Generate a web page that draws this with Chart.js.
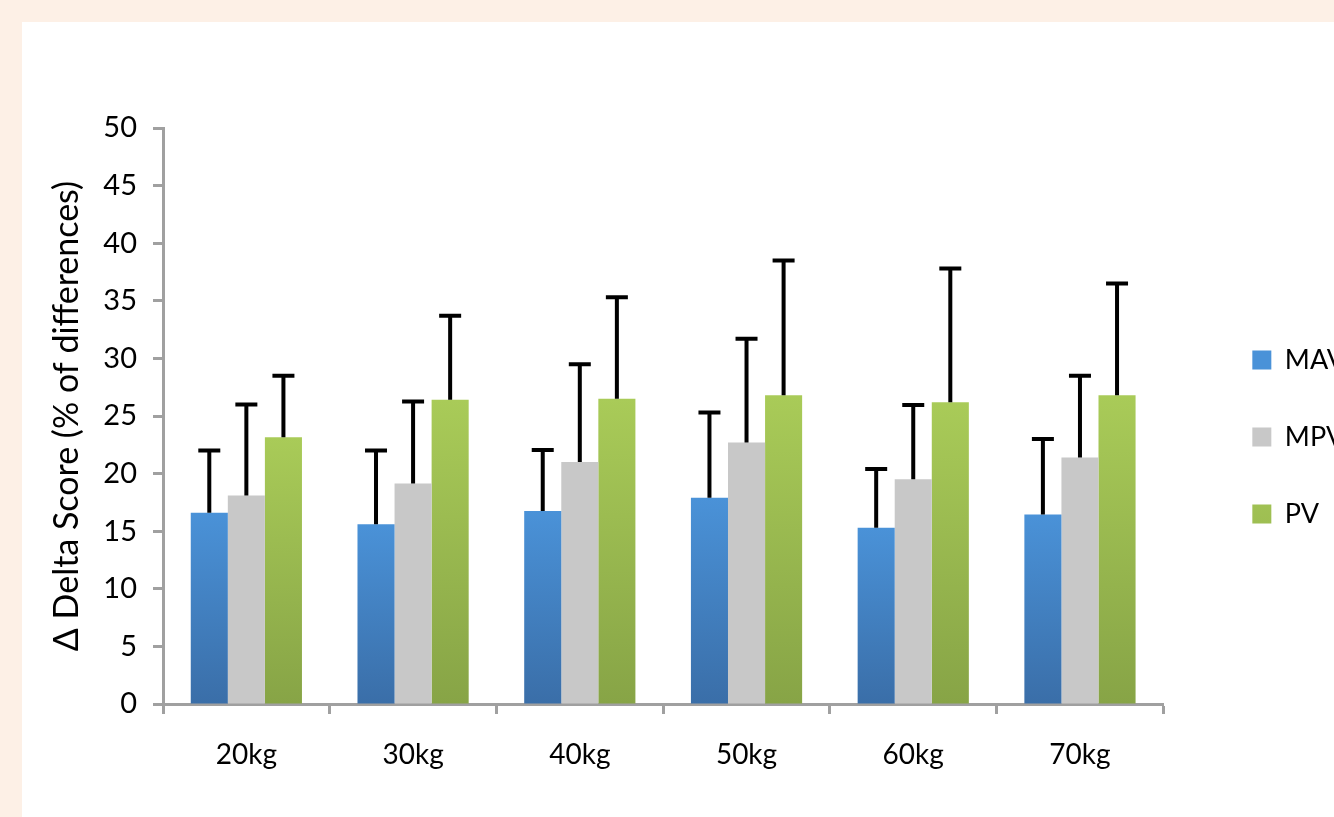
<!DOCTYPE html>
<html>
<head>
<meta charset="utf-8">
<script src="https://cdn.jsdelivr.net/npm/chart.js@4.4.0/dist/chart.umd.min.js"></script>
<style>
  html, body { margin: 0; padding: 0; background: #fdf0e6; overflow: hidden; width: 1334px; height: 817px; }
  #panel { position: absolute; left: 22px; top: 22px; width: 1333px; height: 795px; background: #fff; }
  #myChart { display: block; }
</style>
</head>
<body>
<div id="panel"><canvas id="myChart" width="1333" height="795"></canvas></div>
<script>
var categories = ["20kg", "30kg", "40kg", "50kg", "60kg", "70kg"];
var yTicks = [0, 5, 10, 15, 20, 25, 30, 35, 40, 45, 50];

// mean values
var mav = [16.6, 15.6, 16.75, 17.9, 15.3, 16.45];
var mpv = [18.1, 19.15, 21.0, 22.7, 19.5, 21.4];
var pv = [23.15, 26.4, 26.5, 26.8, 26.2, 26.8];

// + error (SD)
var mavErr = [5.4, 6.4, 5.3, 7.4, 5.1, 6.55];
var mpvErr = [7.9, 7.1, 8.5, 9.0, 6.45, 7.1];
var pvErr = [5.35, 7.3, 8.8, 11.7, 11.6, 9.7];

var fontFam = "Lato, 'Open Sans', sans-serif";

function barGradient(top, bottom) {
    return function (ctx) {
        var chart = ctx.chart;
        if (!chart.chartArea || ctx.type !== "data") return top;
        var y = chart.scales.y;
        var yTop = y.getPixelForValue(ctx.raw);
        var yBot = y.getPixelForValue(0);
        if (!isFinite(yTop) || !isFinite(yBot) || yTop === yBot) return top;
        var g = chart.ctx.createLinearGradient(0, yTop, 0, yBot);
        g.addColorStop(0, top);
        g.addColorStop(1, bottom);
        return g;
    };
}

var errorBars = {
    id: "errorBars",
    afterDatasetsDraw: function (chart) {
        var c = chart.ctx;
        var y = chart.scales.y;
        c.save();
        c.strokeStyle = "#000";
        c.lineWidth = 4;
        chart.data.datasets.forEach(function (ds, i) {
            var meta = chart.getDatasetMeta(i);
            meta.data.forEach(function (bar, j) {
                var x = bar.x;
                var top = y.getPixelForValue(ds.data[j] + ds.err[j]);
                var base = y.getPixelForValue(ds.data[j]);
                c.beginPath();
                c.moveTo(x, base);
                c.lineTo(x, top);
                c.moveTo(x - 11, top);
                c.lineTo(x + 11, top);
                c.stroke();
            });
        });
        c.restore();
    }
};

// x axis is kept short so the legend stays put; let its labels draw below it
var unclipX = {
    id: "unclipX",
    afterLayout: function (chart) {
        chart.scales.x.bottom = chart.height;
    }
};

new Chart("myChart", {
    type: "bar",
    data: {
        labels: categories,
        datasets: [
            { label: "MAV", data: mav, err: mavErr, backgroundColor: barGradient("#4a92d8", "#3a6ea8") },
            { label: "MPV", data: mpv, err: mpvErr, backgroundColor: "#c8c8c8" },
            { label: "PV", data: pv, err: pvErr, backgroundColor: barGradient("#a9cb58", "#87a446") }
        ]
    },
    options: {
        responsive: false,
        animation: false,
        layout: { padding: { left: 25, top: 106, bottom: 71, right: 0 } },
        datasets: { bar: { categoryPercentage: 0.667, barPercentage: 1.0, borderWidth: 0 } },
        scales: {
            x: {
                grid: { display: true, drawOnChartArea: false, drawTicks: true, tickLength: 10, tickWidth: 3, color: "#a0a0a0", offset: true },
                border: { display: true, width: 3, color: "#a0a0a0" },
                ticks: { color: "#000", padding: 24, font: { family: fontFam, size: 28 } },
                afterFit: function (s) { s.height = 42; }
            },
            y: {
                min: 0,
                max: 50,
                afterBuildTicks: function (s) { s.ticks = yTicks.map(function (v) { return { value: v }; }); },
                grid: { display: true, drawOnChartArea: false, drawTicks: true, tickLength: 10, tickWidth: 3, color: "#a0a0a0" },
                border: { display: true, width: 3, color: "#a0a0a0" },
                ticks: { color: "#000", padding: 16, font: { family: fontFam, size: 29 } },
                title: { display: true, text: "Δ Delta Score (% of differences)", color: "#000", padding: 0, font: { family: fontFam, size: 34 } },
                afterFit: function (s) { s.width = 116; }
            },
            yR: {
                position: "right",
                display: true,
                grid: { display: false },
                border: { display: false },
                ticks: { display: false },
                afterFit: function (s) { s.width = 39; }
            }
        },
        plugins: {
            legend: {
                display: true,
                position: "right",
                align: "center",
                labels: { boxWidth: 19, boxHeight: 19, padding: 50, color: "#000", font: { family: fontFam, size: 27 } }
            },
            tooltip: { enabled: false }
        }
    },
    plugins: [errorBars, unclipX]
});
</script>
</body>
</html>
